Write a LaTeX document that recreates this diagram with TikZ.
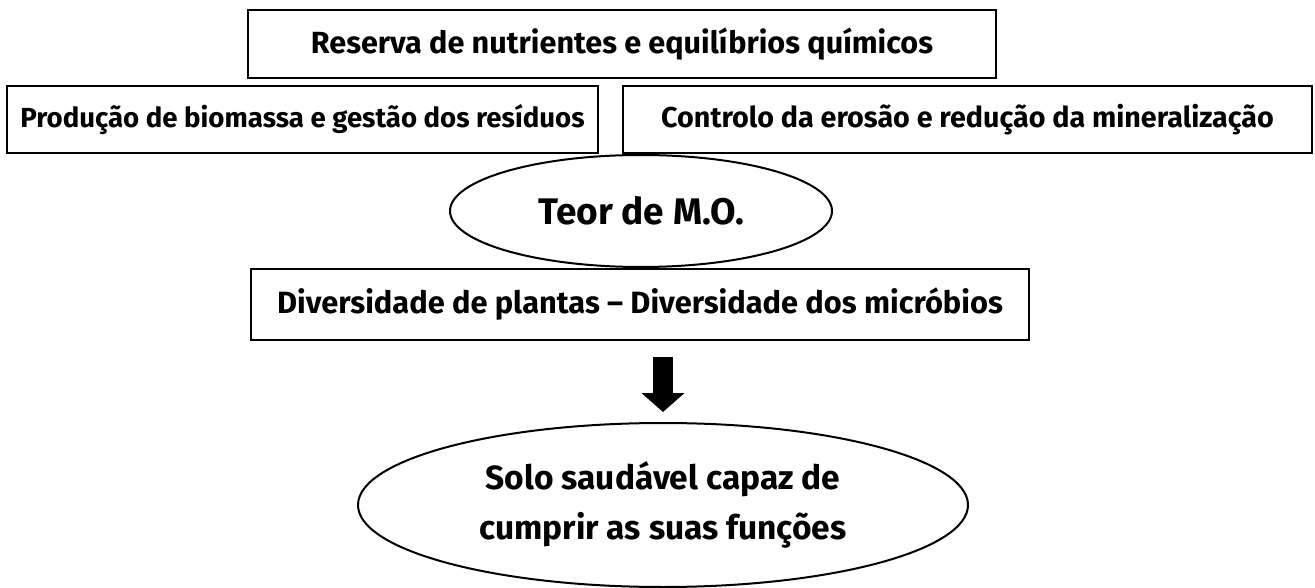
\documentclass[tikz,border=0pt]{standalone}
\usepackage{fontspec}
\setmainfont{Fira Sans}
\usetikzlibrary{shapes.geometric,arrows.meta}

\tikzset{
  caixa/.style={draw, line width=2.8pt, inner sep=0pt, align=center},
  elipse/.style={draw, ellipse, line width=2pt, inner sep=0pt, align=center},
  seta/.style={-{Triangle[width=42pt,length=19pt]}, line width=20pt},
}

\begin{document}
\begin{tikzpicture}[x=1pt, y=-1pt]
    \useasboundingbox (0,0) rectangle (1315,588);

    % caixas de cima
    \node[caixa, minimum width=748pt, minimum height=68pt, font=\bfseries\fontsize{30.6}{36}\selectfont] (reserva) at (622,44) {Reserva de nutrientes e equilíbrios químicos};
    \node[caixa, minimum width=591pt, minimum height=67pt, font=\bfseries\fontsize{27.6}{33}\selectfont] (producao) at (302.5,119.5) {Produção de biomassa e gestão dos resíduos};
    \node[caixa, minimum width=689pt, minimum height=67pt, font=\bfseries\fontsize{28.7}{34}\selectfont] (controlo) at (967.5,119.5) {Controlo da erosão e redução da mineralização};

    % teor e diversidade
    \node[elipse, minimum width=382pt, minimum height=112pt, font=\bfseries\fontsize{37}{44}\selectfont] (teor) at (641,211) {Teor de M.O.};
    \node[caixa, minimum width=778pt, minimum height=71pt, font=\bfseries\fontsize{30.8}{36}\selectfont] (diversidade) at (640,304.5) {Diversidade de plantas – Diversidade dos micróbios};

    % seta para o solo
    \coordinate (setaini) at (663,357);
    \coordinate (setafim) at (663,412);
    \draw[seta] (setaini) -- (setafim);

    % solo saudavel
    \node[elipse, minimum width=610pt, minimum height=164pt, font=\bfseries\fontsize{33.5}{50}\selectfont] (solo) at (663,505) {Solo saudável capaz de\\cumprir as suas funções};
\end{tikzpicture}
\end{document}
